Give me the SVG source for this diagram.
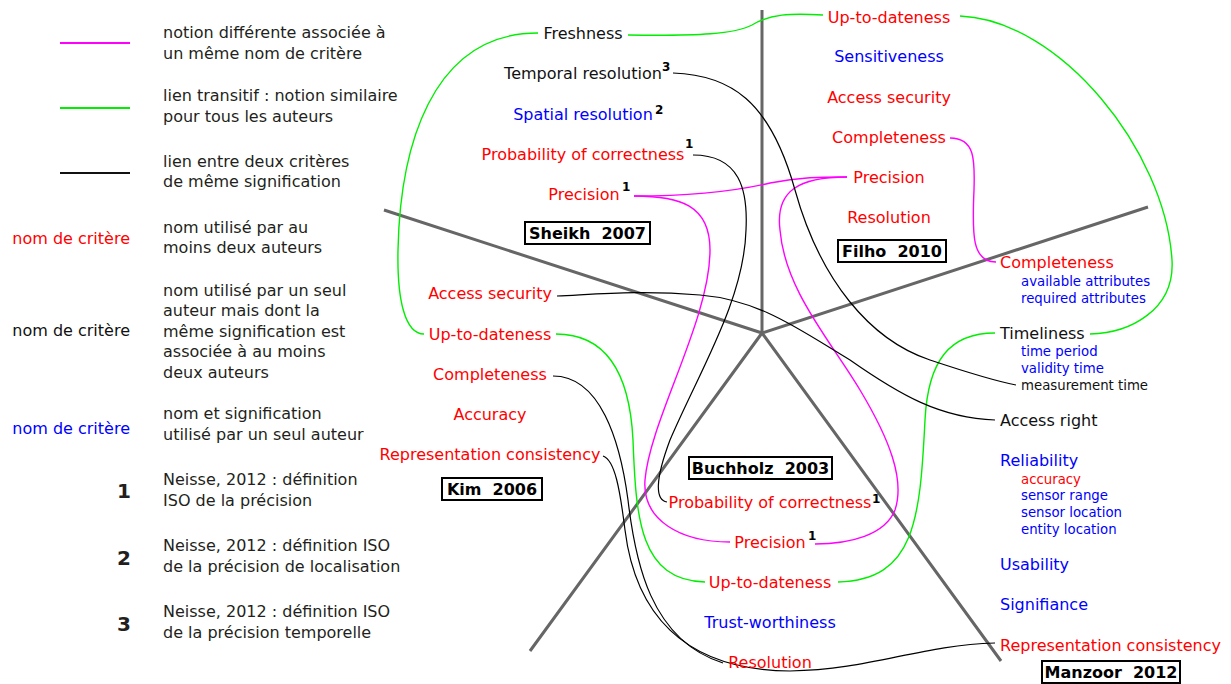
<svg xmlns="http://www.w3.org/2000/svg" width="1231" height="684" viewBox="0 0 1231 684">
<style>
text{font-family:"DejaVu Sans","Liberation Sans",sans-serif;font-size:16px}
.r{fill:#ff0000}.b{fill:#0000ff}.k{fill:#111}
.lg{fill:#231f20}
.s{font-size:13.3px}
.m{text-anchor:middle}
.e{text-anchor:end}
.sup{font-size:12px;font-weight:bold;fill:#000}
.num{font-size:20px;font-weight:bold;fill:#231f20;text-anchor:middle}
.box rect{fill:#fff;stroke:#000;stroke-width:2}
.box text{font-weight:bold;font-size:16px;fill:#000;text-anchor:middle;white-space:pre}
.ax{stroke:#666;stroke-width:3;fill:none}
.cg{stroke:#00ee00;stroke-width:1.4;fill:none}
.cm{stroke:#ff00ff;stroke-width:1.4;fill:none}
.ck{stroke:#000;stroke-width:1.2;fill:none}
</style>

<g id="axes">
<path class="ax" d="M762,333 L762,10 M762,333 L384,210 M762,333 L1148,207 M762,333 L530,651 M762,333 L1001,661"/>
</g>

<g id="legend">
<line x1="60" y1="43" x2="130" y2="43" stroke="#ff00ff" stroke-width="2"/>
<line x1="60" y1="108" x2="130" y2="108" stroke="#00ee00" stroke-width="2"/>
<line x1="60" y1="173" x2="130" y2="173" stroke="#111" stroke-width="2"/>
<text class="lg" x="163" y="38">notion différente associée à</text>
<text class="lg" x="163" y="59">un même nom de critère</text>
<text class="lg" x="163" y="101">lien transitif : notion similaire</text>
<text class="lg" x="163" y="122">pour tous les auteurs</text>
<text class="lg" x="163" y="167">lien entre deux critères</text>
<text class="lg" x="163" y="187">de même signification</text>
<text class="r e" x="130" y="244">nom de critère</text>
<text class="lg" x="163" y="233">nom utilisé par au</text>
<text class="lg" x="163" y="253">moins deux auteurs</text>
<text class="k e" x="130" y="336">nom de critère</text>
<text class="lg" x="163" y="296">nom utilisé par un seul</text>
<text class="lg" x="163" y="316">auteur mais dont la</text>
<text class="lg" x="163" y="337">même signification est</text>
<text class="lg" x="163" y="357">associée à au moins</text>
<text class="lg" x="163" y="378">deux auteurs</text>
<text class="b e" x="130" y="434">nom de critère</text>
<text class="lg" x="163" y="419">nom et signification</text>
<text class="lg" x="163" y="440">utilisé par un seul auteur</text>
<text class="num" x="124" y="498">1</text>
<text class="lg" x="163" y="485">Neisse, 2012 : définition</text>
<text class="lg" x="163" y="506">ISO de la précision</text>
<text class="num" x="124" y="565">2</text>
<text class="lg" x="163" y="551">Neisse, 2012 : définition ISO</text>
<text class="lg" x="163" y="572">de la précision de localisation</text>
<text class="num" x="124" y="631">3</text>
<text class="lg" x="163" y="617">Neisse, 2012 : définition ISO</text>
<text class="lg" x="163" y="638">de la précision temporelle</text>
</g>

<g id="connectors">
<path class="cg" d="M538,33 C430,33 400,150 398,250 C397,300 405,334 424,334"/>
<path class="cg" d="M628,35 C700,36 735,34 752,25 C770,14 790,13 823,15"/>
<path class="cg" d="M960,16 C1060,20 1165,150 1172,260 C1175,310 1130,333 1090,334"/>
<path class="cg" d="M995,333 C950,333 928,360 925,420 C920,520 915,580 838,582"/>
<path class="cg" d="M556,334 C610,334 630,380 633,440 C636,520 640,580 705,582"/>
<path class="cm" d="M634,196 C700,196 740,190 770,183 C800,177 820,177 847,177"/>
<path class="cm" d="M634,196 C680,196 710,205 710,250 C710,320 650,420 645,480 C642,520 680,542 730,542"/>
<path class="cm" d="M847,177 C800,177 775,190 780,230 C785,290 830,340 860,390 C890,440 905,480 895,510 C885,535 850,544 815,544"/>
<path class="cm" d="M950,138 C975,138 975,160 974,190 C972,235 972,262 996,262"/>
<path class="ck" d="M673,73 C730,75 770,100 795,190 C820,280 870,340 930,360 C960,370 990,380 1016,385"/>
<path class="ck" d="M693,155 C740,155 748,190 746,230 C744,300 700,370 670,440 C655,480 655,500 667,502"/>
<path class="ck" d="M557,296 C600,294 640,290 700,295 C760,300 800,330 850,360 C900,395 940,418 995,420"/>
<path class="ck" d="M553,376 C600,376 620,440 628,500 C635,560 650,640 723,663"/>
<path class="ck" d="M603,456 C615,460 620,490 625,530 C635,610 680,670 790,671 C870,670 920,645 995,643"/>
</g>

<g id="sheikh">
<text class="k m" x="583" y="39">Freshness</text>
<text class="k m" x="583" y="79">Temporal resolution</text><text class="sup" x="662" y="71">3</text>
<text class="b m" x="583" y="120">Spatial resolution</text><text class="sup" x="655" y="114">2</text>
<text class="r m" x="583" y="160">Probability of correctness</text><text class="sup" x="685" y="148">1</text>
<text class="r m" x="584" y="200">Precision</text><text class="sup" x="622" y="191">1</text>
<g class="box"><rect x="525" y="222" width="125" height="22"/><text x="587.5" y="239">Sheikh  2007</text></g>
</g>

<g id="filho">
<text class="r m" x="889" y="23">Up-to-dateness</text>
<text class="b m" x="889" y="62">Sensitiveness</text>
<text class="r m" x="889" y="103">Access security</text>
<text class="r m" x="889" y="143">Completeness</text>
<text class="r m" x="889" y="183">Precision</text>
<text class="r m" x="889" y="223">Resolution</text>
<g class="box"><rect x="838" y="240" width="108" height="22"/><text x="892" y="257">Filho  2010</text></g>
</g>

<g id="manzoor">
<text class="r" x="1000" y="268">Completeness</text>
<text class="b s" x="1021" y="286">available attributes</text>
<text class="b s" x="1021" y="303">required attributes</text>
<text class="k" x="1000" y="339">Timeliness</text>
<text class="b s" x="1021" y="356">time period</text>
<text class="b s" x="1021" y="373">validity time</text>
<text class="k s" x="1021" y="390">measurement time</text>
<text class="k" x="1000" y="426">Access right</text>
<text class="b" x="1000" y="466">Reliability</text>
<text class="r s" x="1021" y="484">accuracy</text>
<text class="b s" x="1021" y="500">sensor range</text>
<text class="b s" x="1021" y="517">sensor location</text>
<text class="b s" x="1021" y="534">entity location</text>
<text class="b" x="1000" y="570">Usability</text>
<text class="b" x="1000" y="610">Signifiance</text>
<text class="r" x="1000" y="651">Representation consistency</text>
<g class="box"><rect x="1042" y="661" width="138" height="22"/><text x="1111" y="678">Manzoor  2012</text></g>
</g>

<g id="buchholz">
<g class="box"><rect x="689" y="457" width="143" height="22"/><text x="760.5" y="474">Buchholz  2003</text></g>
<text class="r m" x="770" y="508">Probability of correctness</text><text class="sup" x="872" y="503">1</text>
<text class="r m" x="770" y="548">Precision</text><text class="sup" x="808" y="540">1</text>
<text class="r m" x="770" y="588">Up-to-dateness</text>
<text class="b m" x="770" y="628">Trust-worthiness</text>
<text class="r m" x="770" y="668">Resolution</text>
</g>

<g id="kim">
<text class="r m" x="490" y="299">Access security</text>
<text class="r m" x="490" y="340">Up-to-dateness</text>
<text class="r m" x="490" y="380">Completeness</text>
<text class="r m" x="490" y="420">Accuracy</text>
<text class="r m" x="490" y="460">Representation consistency</text>
<g class="box"><rect x="442" y="478" width="100" height="22"/><text x="492" y="495">Kim  2006</text></g>
</g>
</svg>
